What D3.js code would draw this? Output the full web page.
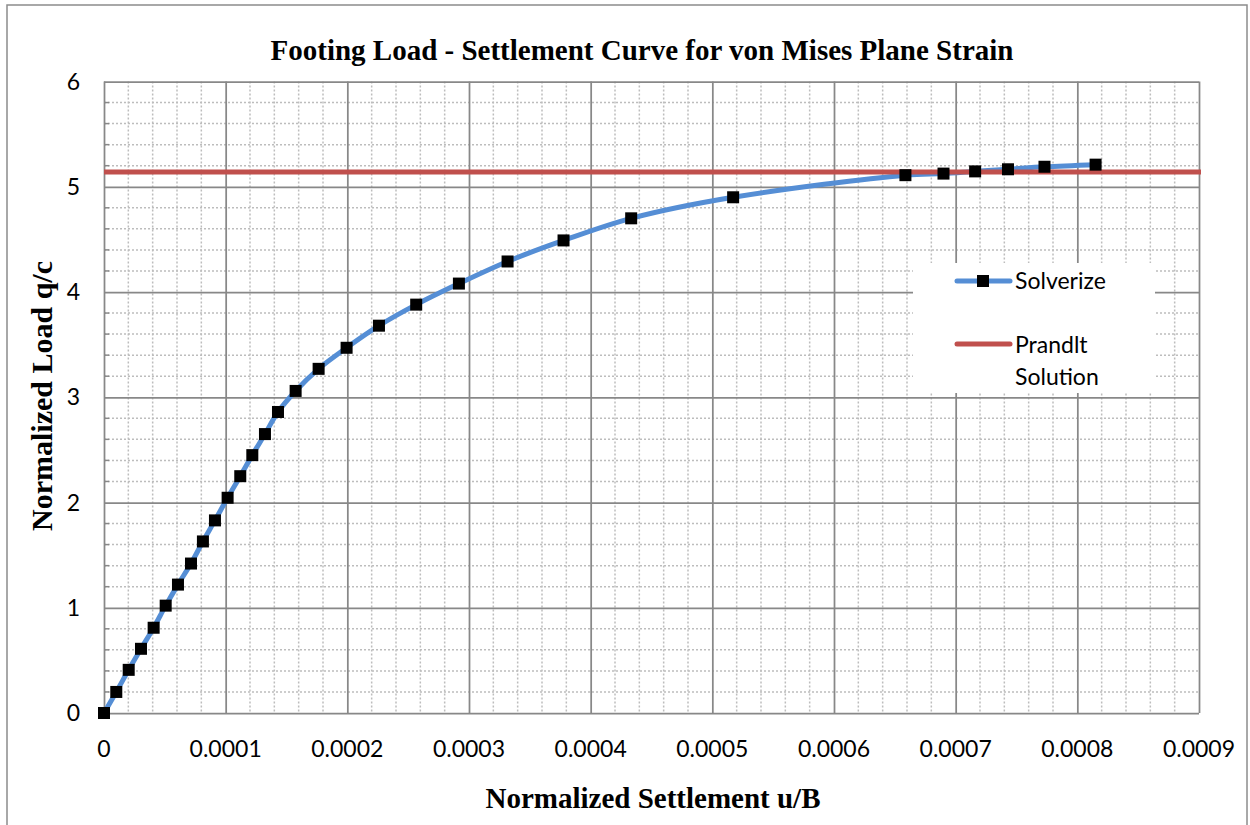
<!DOCTYPE html>
<html>
<head>
<meta charset="utf-8">
<script src="https://cdn.jsdelivr.net/npm/d3@7"></script>
<style>
  body { margin: 0; background: #fff; }
  svg { display: block; }
  .tick-label { font-family: Lato, "Open Sans", sans-serif; font-size: 23px; fill: #000; }
  .serif-title { font-family: "Liberation Serif", "Times New Roman", serif; font-weight: bold; fill: #000; }
</style>
</head>
<body>
<svg id="chart"></svg>
<script>
// values
var settlement = [0, 0.0000101, 0.0000203, 0.0000304, 0.0000408, 0.0000507, 0.0000608, 0.0000715,
  0.0000813, 0.0000912, 0.0001016, 0.000112, 0.0001219, 0.0001323, 0.000143, 0.0001575,
  0.0001764, 0.0001994, 0.000226, 0.0002566, 0.0002917, 0.0003317, 0.0003777, 0.0004333,
  0.0005171, 0.0006587, 0.00069, 0.000716, 0.000743, 0.000773, 0.000815];
var load = [0, 0.2, 0.41, 0.61, 0.81, 1.02, 1.22, 1.42, 1.63, 1.83, 2.045, 2.25, 2.45, 2.65,
  2.86, 3.06, 3.27, 3.47, 3.68, 3.88, 4.08, 4.29, 4.49, 4.70, 4.90, 5.11, 5.125, 5.146,
  5.166, 5.19, 5.21];
var prandtlLoad = 5.14;

var xTicks = [0, 0.0001, 0.0002, 0.0003, 0.0004, 0.0005, 0.0006, 0.0007, 0.0008, 0.0009];
var yTicks = [0, 1, 2, 3, 4, 5, 6];

var legendNames = ["Solverize", "Prandlt Solution"];

var width = 1250, height = 825;
var plot = { left: 104, top: 81.5, right: 1199, bottom: 713 };

var svg = d3.select("#chart").attr("width", width).attr("height", height);

// outer chart border
svg.append("rect")
  .attr("x", 7).attr("y", 5)
  .attr("width", 1240).attr("height", 830)
  .attr("fill", "#fff")
  .attr("stroke", "#8c8c8c")
  .attr("stroke-width", 1.5);

var x = d3.scaleLinear().domain([0, 0.0009]).range([plot.left, plot.right]);
var y = d3.scaleLinear().domain([0, 6]).range([plot.bottom, plot.top]);

// minor grid (dotted)
var xMinor = d3.range(0, 46).map(function(i) { return i * 0.00002; })
  .filter(function(d, i) { return i % 5 !== 0; });
var yMinor = d3.range(0, 31).map(function(i) { return i * 0.2; })
  .filter(function(d, i) { return i % 5 !== 0; });

var grid = svg.append("g");
grid.selectAll(".vminor").data(xMinor).enter().append("line")
  .attr("x1", function(d) { return x(d); }).attr("x2", function(d) { return x(d); })
  .attr("y1", plot.top).attr("y2", plot.bottom)
  .attr("stroke", "#bdbdbd").attr("stroke-width", 1.5).attr("stroke-dasharray", "2,2");
grid.selectAll(".hminor").data(yMinor).enter().append("line")
  .attr("x1", plot.left).attr("x2", plot.right)
  .attr("y1", function(d) { return y(d); }).attr("y2", function(d) { return y(d); })
  .attr("stroke", "#bdbdbd").attr("stroke-width", 1.5).attr("stroke-dasharray", "2,2");

// minor tick marks on the left axis
grid.selectAll(".ymt").data(yMinor).enter().append("line")
  .attr("x1", plot.left).attr("x2", plot.left + 5)
  .attr("y1", function(d) { return y(d); }).attr("y2", function(d) { return y(d); })
  .attr("stroke", "#888").attr("stroke-width", 1.5);

// major grid via axes
var xGrid = svg.append("g")
  .attr("transform", "translate(0," + plot.bottom + ")")
  .call(d3.axisBottom(x).tickValues(xTicks).tickSize(-(plot.bottom - plot.top)).tickFormat(""));
var yGrid = svg.append("g")
  .attr("transform", "translate(" + plot.left + ",0)")
  .call(d3.axisLeft(y).tickValues(yTicks).tickSize(-(plot.right - plot.left)).tickFormat(""));
[xGrid, yGrid].forEach(function(g) {
  g.select(".domain").remove();
  g.selectAll("line").attr("stroke", "#888").attr("stroke-width", 1.75);
});

// tick labels
svg.append("g").selectAll("text").data(xTicks).enter().append("text")
  .attr("class", "tick-label")
  .attr("x", function(d) { return x(d); })
  .attr("y", 757)
  .attr("text-anchor", "middle")
  .text(function(d) { return d === 0 ? "0" : d.toFixed(4); });
svg.append("g").selectAll("text").data(yTicks).enter().append("text")
  .attr("class", "tick-label")
  .attr("x", 80)
  .attr("y", function(d) { return y(d); })
  .attr("dy", "0.35em")
  .attr("text-anchor", "end")
  .text(function(d) { return d; });

// Solverize curve
var points = settlement.map(function(s, i) { return [s, load[i]]; });
var line = d3.line()
  .x(function(d) { return x(d[0]); })
  .y(function(d) { return y(d[1]); })
  .curve(d3.curveCatmullRom.alpha(0.5));

svg.append("path")
  .datum(points)
  .attr("d", line)
  .attr("fill", "none")
  .attr("stroke", "#558ed5")
  .attr("stroke-width", 5)
  .attr("stroke-linecap", "round");

// Prandtl line
svg.append("line")
  .attr("x1", x(0)).attr("x2", x(0.0009) + 2)
  .attr("y1", y(prandtlLoad)).attr("y2", y(prandtlLoad))
  .attr("stroke", "#c0504d").attr("stroke-width", 5);

// markers
var ms = 12;
svg.append("g").selectAll("rect").data(points).enter().append("rect")
  .attr("x", function(d) { return x(d[0]) - ms / 2; })
  .attr("y", function(d) { return y(d[1]) - ms / 2; })
  .attr("width", ms).attr("height", ms)
  .attr("fill", "#000");

// legend
var legend = svg.append("g");
legend.append("rect")
  .attr("x", 913).attr("y", 263).attr("width", 242).attr("height", 130)
  .attr("fill", "#fff");
legend.append("line")
  .attr("x1", 957).attr("x2", 1010).attr("y1", 281).attr("y2", 281)
  .attr("stroke", "#558ed5").attr("stroke-width", 5).attr("stroke-linecap", "round");
legend.append("rect")
  .attr("x", 983 - ms / 2).attr("y", 281 - ms / 2).attr("width", ms).attr("height", ms)
  .attr("fill", "#000");
legend.append("text")
  .attr("class", "tick-label")
  .attr("x", 1015).attr("y", 281).attr("dy", "0.35em")
  .text(legendNames[0]);
legend.append("line")
  .attr("x1", 957).attr("x2", 1010).attr("y1", 344).attr("y2", 344)
  .attr("stroke", "#c0504d").attr("stroke-width", 5).attr("stroke-linecap", "round");
var pText = legend.append("text")
  .attr("class", "tick-label")
  .attr("x", 1015).attr("y", 345).attr("dy", "0.35em");
pText.append("tspan").attr("x", 1015).text(legendNames[1].split(" ")[0]);
pText.append("tspan").attr("x", 1015).attr("dy", 32).text(legendNames[1].split(" ")[1]);

// titles
svg.append("text")
  .attr("class", "serif-title")
  .attr("x", 642).attr("y", 60)
  .attr("text-anchor", "middle")
  .style("font-size", "29px")
  .text("Footing Load - Settlement Curve for von Mises Plane Strain");
svg.append("text")
  .attr("class", "serif-title")
  .attr("x", 653).attr("y", 808)
  .attr("text-anchor", "middle")
  .style("font-size", "29px")
  .text("Normalized Settlement u/B");
svg.append("text")
  .attr("class", "serif-title")
  .attr("transform", "translate(52,396) rotate(-90)")
  .attr("text-anchor", "middle")
  .style("font-size", "30px")
  .text("Normalized Load q/c");
</script>
</body>
</html>
